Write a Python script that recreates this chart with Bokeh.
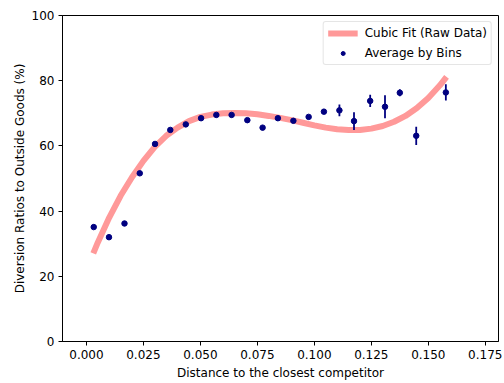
from bokeh.plotting import figure
from bokeh.models import (ColumnDataSource, Range1d, FixedTicker, NumeralTickFormatter,
                          Legend, LegendItem)
from bokeh.embed import file_html
from bokeh.resources import INLINE

# Binned averages
bin_x = [0.0032, 0.0099, 0.0167, 0.0234, 0.0301, 0.0368, 0.0436, 0.0503, 0.0570, 0.0637,
         0.0706, 0.0773, 0.0840, 0.0908, 0.0975, 0.1042, 0.1110, 0.1174, 0.1245, 0.1310,
         0.1375, 0.1447, 0.1577]
bin_y = [35.1, 32.0, 36.2, 51.6, 60.6, 64.9, 66.6, 68.5, 69.5, 69.5,
         67.9, 65.6, 68.5, 67.7, 68.9, 70.5, 70.9, 67.6, 73.8, 72.0,
         76.3, 63.1, 76.4]
bin_err = [0.5, 0.5, 0.5, 0.5, 0.5, 0.5, 0.5, 0.5, 0.5, 0.5,
           0.5, 0.5, 0.5, 0.5, 0.6, 0.7, 1.8, 2.7, 1.9, 3.5,
           1.1, 2.8, 2.5]

# Cubic fit curve
fit_x = [0.003, 0.005, 0.010, 0.015, 0.020, 0.025, 0.030, 0.035, 0.040, 0.045,
         0.050, 0.055, 0.060, 0.065, 0.070, 0.075, 0.080, 0.085, 0.090, 0.095,
         0.100, 0.105, 0.110, 0.115, 0.120, 0.125, 0.130, 0.135, 0.140, 0.145,
         0.150, 0.155, 0.158]
fit_y = [27.0, 30.4, 38.0, 44.7, 50.4, 55.4, 59.7, 63.1, 65.6, 67.6,
         68.9, 69.6, 70.0, 70.1, 70.0, 69.7, 69.2, 68.6, 67.9, 67.1,
         66.3, 65.6, 65.1, 64.9, 64.9, 65.3, 66.1, 67.4, 69.2, 71.6,
         74.7, 78.5, 81.2]

x_ticks = [0.0, 0.025, 0.05, 0.075, 0.1, 0.125, 0.15, 0.175]
y_ticks = [0, 20, 40, 60, 80, 100]

FONT = "DejaVu Sans"

p = figure(width=504, height=383, output_backend="svg", toolbar_location=None,
           x_range=Range1d(-0.0105, 0.1808), y_range=Range1d(0, 100),
           min_border_left=62, min_border_right=6, min_border_top=15, min_border_bottom=42)

p.xgrid.visible = False
p.ygrid.visible = False
p.outline_line_color = "black"
p.outline_line_alpha = 1.0
p.outline_line_width = 1

fit_r = p.line(fit_x, fit_y, line_color="#ff9999", line_width=6)

src = ColumnDataSource(dict(x=bin_x, y=bin_y,
                            lo=[y - e for y, e in zip(bin_y, bin_err)],
                            hi=[y + e for y, e in zip(bin_y, bin_err)]))
p.segment(x0="x", y0="lo", x1="x", y1="hi", source=src, line_color="#000080", line_width=1.8)
pts_r = p.scatter(x="x", y="y", source=src, size=5.5, fill_color="#000080",
                  line_color="#000080", marker="circle")

# legend-only vertical bar (empty source, nothing drawn on the plot)
bar_src = ColumnDataSource(dict(x=[]))
bar_r = p.vspan(x="x", source=bar_src, line_color="#000080", line_width=1.8)

legend = Legend(items=[LegendItem(label="Cubic Fit (Raw Data)", renderers=[fit_r]),
                       LegendItem(label="Average by Bins", renderers=[bar_r, pts_r])],
                location="top_right")
legend.margin = 6
legend.padding = 4
legend.spacing = 6
legend.glyph_width = 30
legend.glyph_height = 10
legend.label_height = 14
legend.label_standoff = 7
legend.label_text_font = FONT
legend.label_text_font_size = "12px"
legend.label_text_color = "black"
legend.border_line_color = "#cccccc"
legend.border_line_width = 1
legend.background_fill_alpha = 0.9
try:
    legend.border_radius = 3
except Exception:
    pass
p.add_layout(legend)

p.xaxis.ticker = FixedTicker(ticks=x_ticks)
p.yaxis.ticker = FixedTicker(ticks=y_ticks)
p.xaxis.formatter = NumeralTickFormatter(format="0.000")
p.xaxis.axis_label = "Distance to the closest competitor"
p.yaxis.axis_label = "Diversion Ratios to Outside Goods (%)"

for ax in (p.xaxis, p.yaxis):
    ax.axis_line_color = "black"
    ax.major_tick_line_color = "black"
    ax.major_tick_out = 4
    ax.major_tick_in = 0
    ax.minor_tick_line_color = None
    ax.major_label_text_font = FONT
    ax.major_label_text_font_size = "12px"
    ax.major_label_text_color = "black"
    ax.axis_label_text_font = FONT
    ax.axis_label_text_font_size = "12px"
    ax.axis_label_text_font_style = "normal"
    ax.axis_label_text_color = "black"
    ax.major_label_standoff = 4

p.xaxis.axis_label_standoff = 4
p.yaxis.axis_label_standoff = 2

open("out.html", "w").write(file_html(p, INLINE))
